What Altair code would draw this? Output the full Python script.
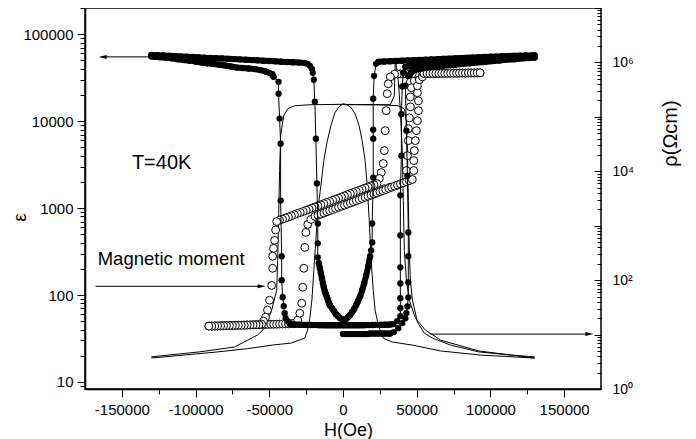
import altair as alt
import pandas as pd

FONT = "Liberation Sans"

# ---------------- dielectric constant (filled circles, left axis) ----------------
# sweep up (-130 kOe -> +130 kOe), split into pieces; "band" pieces are dense runs of dots
UP1_H = [-130000, -126000, -122000, -118000, -114000, -110000, -106000, -102000, -98000, -94000,
         -90000, -86000, -82000, -78000, -74000, -70000, -66000, -62000, -58000, -54000,
         -50000, -46000, -42000, -38000, -34000, -30000, -26000]
UP1_V = [57800, 57300, 56900, 56400, 56000, 55500, 55100, 54600, 54200, 53700,
         53300, 52900, 52600, 52100, 51700, 51300, 50900, 50400, 50000, 49500,
         49100, 48700, 48300, 47900, 47500, 47100, 46600]
UP2_H = [-24000, -22500, -21100, -20500, -19800, -19100, -18400, -17700, -17100, -17100, -17100]
UP2_V = [45500, 43200, 39900, 35900, 29900, 16700, 6280, 1920, 665, 393, 271]
UP3_H = [-16400, -15700, -15000, -14300, -13600, -13000, -12300, -11600, -10900, -10200,
         -9500, -8900, -7500, -6100, -4800, -3400, -2000, -700, 700,
         2000, 3400, 4800, 6100, 7500, 8900, 10200, 11600, 13000, 14300, 15700, 17100, 18400]
UP3_V = [232, 203, 178, 156, 136, 123, 110, 102, 94.4, 87.1,
         80.5, 76.4, 70.5, 65.2, 60.2, 57.1, 54.2, 52.7, 51.4,
         52.7, 55.6, 58.6, 63.5, 68.7, 76.4, 84.8, 96.8, 113, 136, 167, 214, 279]
UP4_H = [19100, 19800, 19800, 20500, 20500, 20500, 20500, 21100, 22500]
UP4_V = [326, 403, 665, 2240, 6280, 7980, 18100, 33200, 45600]
UP5_H = [24000, 28000, 32000, 36000, 40000, 44000, 48000, 52000, 56000, 60000, 64000, 68000,
         72000, 76000, 80000, 84000, 88000, 92000, 96000, 100000, 104000, 108000, 112000,
         116000, 120000, 124000, 128000, 130000]
UP5_V = [48100, 48500, 48800, 49100, 49500, 49800, 50200, 50500, 50900, 51200, 51600, 52000,
         52300, 52700, 53100, 53400, 53800, 54200, 54600, 55000, 55300, 55700, 56000,
         56300, 56600, 56800, 57000, 57100]

# sweep down (+130 kOe -> -130 kOe)
DN1_H = [130000, 126000, 122000, 118000, 114000, 110000, 106000, 102000, 98000, 94000,
         90000, 86000, 82000, 78000, 74000, 70000, 66000, 62000, 58000, 54000, 50000, 46000, 42300]
DN1_V = [54300, 54000, 53600, 53200, 52800, 52400, 52000, 51500, 51000, 50600,
         50100, 49700, 49200, 48700, 48200, 47700, 47100, 46600, 46000, 45300, 44600, 43800, 42100]
DN2_H = [40900, 40200, 39600, 39600, 38900, 38900, 38900, 38900, 38900, 38900, 38900, 36800]
DN2_V = [36000, 25000, 12000, 4000, 1400, 485, 208, 136, 91.8, 70.5, 57.1, 50.0]
DN3_H = [34100, 32000, 30000, 28000, 26000, 24000, 22000, 20000, 18000, 16000, 14000, 12000,
         10000, 8000, 6000, 4000, 2000, 0, -2000, -4000, -6000, -8000, -10000, -12000, -14000,
         -16000, -18000, -20000, -22000, -24000, -26000, -28000, -30000, -32000, -34000, -36000]
DN3_V = [46.3, 45.8, 45.6, 45.5, 45.4, 45.3, 45.3, 45.2, 45.1, 45.1, 45.0, 45.0,
         44.9, 44.9, 44.9, 44.8, 44.8, 44.8, 44.8, 44.8, 44.8, 44.9, 44.9, 44.9, 45.0,
         45.0, 45.1, 45.1, 45.2, 45.3, 45.3, 45.4, 45.5, 45.6, 45.8, 46.2]
DN4_H = [-37500, -38900, -39600, -40200, -40900, -41600, -41600, -42300, -42300, -43000,
         -43700, -43700]
DN4_V = [50.0, 54.2, 61.8, 74.3, 94.4, 148, 279, 1220, 5510, 10700, 20700, 28300]
DN5_H = [-47100, -48000, -52000, -56000, -60000, -64000, -68000, -72000, -76000, -80000,
         -84000, -88000, -92000, -96000, -100000, -104000, -108000, -112000, -116000,
         -120000, -124000, -128000, -130000]
DN5_V = [32300, 34700, 37000, 38600, 39700, 40300, 40800, 41300, 42500, 43700,
         44600, 45500, 46300, 47300, 48500, 49600, 50500, 51500, 52700,
         53700, 54400, 55100, 55500]

# first (virgin) sweep from 0
VG1_H = [0, 2000, 4000, 6000, 8000, 10000, 12000, 14000, 16000, 18000, 20000, 22000,
         24000, 26000, 28000, 30000, 32000]
VG1_V = [35.5, 35.5, 35.5, 35.5, 35.5, 35.5, 35.5, 35.5, 35.5, 36, 36, 36,
         36, 36, 36, 36, 36]
VG2_H = [34500, 37500, 40200, 42300, 43000, 43700, 44300, 44300, 44300, 44300, 43700, 43000, 42300]
VG2_V = [37.5, 41.6, 47.5, 54, 62, 74, 94, 140, 279, 525, 2360, 7770, 25500]
VG3_H = [44300, 47100, 54000, 60000, 68000, 76000, 86000, 96000, 106000, 116000, 126000, 130000]
VG3_V = [33000, 38000, 40500, 41800, 43200, 44600, 46300, 48000, 49800, 51500, 53200, 53800]

# ---------------- magnetic moment (open circles, drawn on the left scale) ----------------
M_DOWN_H = [93000, 91000, 89000, 87000, 85000, 83000, 81000, 79000, 77000, 75000,
            73000, 71000, 69000, 67000, 65000, 63000, 61000, 59000, 57000, 55000,
            53000, 51000, 49000, 47000, 45000, 43000, 41000, 39000, 37000, 35000,
            32100, 30700, 30000, 29300, 28600, 28000, 27300, 25900, 24600,
            23000, 21000, 19000, 17000, 15000, 13000, 11000, 9000, 7000, 5000,
            3000, 1000, -1000, -3000, -5000, -7000, -9000, -11000, -13000, -15000,
            -17000, -19000, -21000, -23000, -25000, -27000, -29000, -31000, -33000, -35000,
            -37000, -39000, -41000, -43000, -45000,
            -45700, -46400, -47100, -47700, -47700, -48400, -49800, -51200, -52500, -53900, -55200,
            -57000, -59000, -61000, -63000, -65000, -67000, -69000, -71000, -73000, -75000,
            -77000, -79000, -81000, -83000, -85000, -87000, -89000, -91000]
M_DOWN_V = [35900, 35900, 35800, 35800, 35800, 35700, 35700, 35700, 35600, 35600,
            35600, 35500, 35500, 35500, 35400, 35400, 35400, 35300, 35300, 35300,
            35200, 35200, 35200, 35100, 35100, 35100, 35000, 35000, 34900, 34700,
            32300, 26900, 20700, 13200, 7770, 4580, 3250, 2560, 2190,
            1910, 1855, 1800, 1750, 1700, 1650, 1600, 1555, 1510, 1465,
            1425, 1380, 1340, 1300, 1265, 1230, 1190, 1160, 1125, 1090,
            1060, 1030, 1000, 970, 945, 915, 890, 865, 840, 815,
            790, 770, 745, 725, 700,
            560, 425, 344, 279, 203, 129, 87.1, 67, 55.6, 50.0, 46.3,
            45.6, 45.5, 45.4, 45.3, 45.2, 45.0, 44.9, 44.8, 44.7, 44.6,
            44.5, 44.4, 44.3, 44.2, 44.1, 44.0, 43.9, 43.9]

M_UP_H = [-91000, -89000, -87000, -85000, -83000, -81000, -79000, -77000, -75000, -73000,
          -71000, -69000, -67000, -65000, -63000, -61000, -59000, -57000, -55000, -53000,
          -51000, -49000, -47000, -45000, -43000, -41000, -39000, -37000, -35000, -33000,
          -30700, -29300, -28000, -27300, -26600, -25900, -25200, -23900, -21800,
          -19000, -17000, -15000, -13000, -11000, -9000, -7000, -5000, -3000, -1000,
          1000, 3000, 5000, 7000, 9000, 11000, 13000, 15000, 17000, 19000,
          21000, 23000, 25000, 27000, 29000, 31000, 33000, 35000, 37000, 39000,
          41000, 43000, 45000, 47000,
          48000, 48000, 48400, 49100, 49800, 50500, 51200, 51200, 50500, 50500, 51800, 53900,
          55000, 57000, 59000, 61000, 63000, 65000, 67000, 69000, 71000, 73000,
          75000, 77000, 79000, 81000, 83000, 85000, 87000, 89000, 91000, 93000]
M_UP_V = [43.9, 44.0, 44.1, 44.2, 44.3, 44.4, 44.5, 44.6, 44.7, 44.8,
          44.9, 45.0, 45.1, 45.2, 45.3, 45.4, 45.5, 45.6, 45.7, 45.8,
          45.9, 46.0, 46.1, 46.2, 46.3, 46.4, 46.5, 46.6, 46.8, 47.5,
          51.4, 61.8, 80.5, 123, 203, 353, 525, 649, 740,
          805, 828, 853, 878, 905, 932, 960, 990, 1020, 1050,
          1080, 1110, 1145, 1180, 1215, 1250, 1290, 1330, 1370, 1410,
          1450, 1495, 1540, 1585, 1635, 1685, 1735, 1785, 1840, 1895,
          1950, 2010, 2070, 2130,
          2700, 3520, 4580, 5970, 7770, 10100, 13200, 17100, 21200, 25500, 29900, 32300,
          35300, 35300, 35300, 35400, 35400, 35400, 35500, 35500, 35500, 35600,
          35600, 35600, 35700, 35700, 35700, 35800, 35800, 35800, 35900, 35900]

M_VIRGIN_H = [0, 4000, 8000, 12000, 16000, 20000, 24000, 28000, 32000, 36000, 40000,
              43000, 43700, 44300, 44300, 45000, 45700, 45700, 46400, 48400, 51200]
M_VIRGIN_V = [1220, 1250, 1320, 1375, 1430, 1520, 1590, 1670, 1740, 1820, 1920,
              2700, 4010, 5970, 8190, 10900, 14600, 19000, 24200, 29100, 32300]

# ---------------- resistivity (thin lines, right axis) ----------------
RHO_UP_H = [-130000, -100000, -85000, -65000, -48000, -35000, -26000, -24000, -22500, -21100,
            -19800, -18400, -17100, -15000, -13000, -10900, -8200, -5500, -2700, 0,
            2700, 5500, 8200, 10900, 13000, 15000, 16400, 17800, 19100, 20500,
            21800, 23900, 27300, 33400, 47100, 66200, 93400, 130000]
RHO_UP_V = [3.7, 4.4, 4.8, 5.5, 6.4, 7.0, 8.6, 12.1, 20, 43,
            152, 540, 1900, 5500, 15700, 33600, 69000, 119000, 153000, 174000,
            167000, 147000, 114000, 69000, 36600, 15700, 5500, 1250, 231, 65,
            28, 15, 8.6, 7.3, 6.4, 5.0, 4.2, 3.7]

RHO_DOWN_H = [130000, 92100, 66200, 55900, 49100, 45000, 43000, 41600, 40900, 40200,
              38900, 37500, 35500, 34800, 32100, 18400, 0, -22500, -32700, -37500,
              -40200, -42300, -43000, -43700, -44300, -45000, -48400, -53200, -58000, -73700,
              -97500, -130000]
RHO_DOWN_V = [3.7, 5.0, 7.9, 12.1, 20, 42.8, 99, 352, 2900, 24000,
              130000, 459000, 1210000, 244000, 167000, 167000, 170000, 167000, 160000, 141000,
              105000, 45200, 10300, 1250, 231, 65, 28, 13.1, 9.8, 5.9,
              4.8, 3.9]

RHO_VIRGIN_H = [0, 25200, 37500, 41600, 43000, 43700, 44300, 45000, 45700, 47100,
                50500, 55200, 60700, 73000, 92100, 113900, 130000]
RHO_VIRGIN_V = [167000, 167000, 160000, 141000, 92500, 24000, 2900, 352, 99, 42.8,
                16.9, 10.6, 8.6, 6.4, 4.8, 4.2, 3.9]

# ---------------- annotations ----------------
ARROW_EPS_H = [-131000, -163000]
ARROW_EPS_V = [54800, 54800]
ARROW_M_H = [-167800, -55200]
ARROW_M_V = [126, 126]
ARROW_RHO_H = [59300, 167100]
ARROW_RHO_V = [10.2, 10.2]

TEXT_T = ["T=40K"]
TEXT_T_H = [-143200]
TEXT_T_V = [2845]
TEXT_M = ["Magnetic moment"]
TEXT_M_H = [-166400]
TEXT_M_V = [220]

X_TICKS = [-150000, -125000, -100000, -75000, -50000, -25000, 0, 25000, 50000, 75000,
           100000, 125000, 150000]
EPS_TICKS = [9, 10, 20, 30, 40, 50, 60, 70, 80, 90, 100, 200, 300, 400, 500, 600, 700, 800, 900,
             1000, 2000, 3000, 4000, 5000, 6000, 7000, 8000, 9000,
             10000, 20000, 30000, 40000, 50000, 60000, 70000, 80000, 90000, 100000, 200000]
RHO_TICKS = [1, 2, 3, 4, 5, 6, 7, 8, 9,
             10, 20, 30, 40, 50, 60, 70, 80, 90,
             100, 200, 300, 400, 500, 600, 700, 800, 900,
             1000, 2000, 3000, 4000, 5000, 6000, 7000, 8000, 9000,
             10000, 20000, 30000, 40000, 50000, 60000, 70000, 80000, 90000,
             100000, 200000, 300000, 400000, 500000, 600000, 700000, 800000, 900000,
             1000000, 2000000, 3000000, 4000000, 5000000, 6000000, 7000000, 8000000, 9000000,
             10000000]


def seg(h, v, name):
    assert len(h) == len(v), name
    return pd.DataFrame({"H": h, "v": v, "i": list(range(len(h))), "s": name})


eps_sweeps = pd.concat([
    seg(UP1_H + UP2_H + UP3_H + UP4_H + UP5_H, UP1_V + UP2_V + UP3_V + UP4_V + UP5_V, "up"),
    seg(DN1_H + DN2_H + DN3_H + DN4_H + DN5_H, DN1_V + DN2_V + DN3_V + DN4_V + DN5_V, "down"),
    seg(VG1_H + VG2_H + VG3_H, VG1_V + VG2_V + VG3_V, "virgin"),
])
eps_bands = pd.concat([
    seg(UP1_H, UP1_V, "u1"), seg(UP3_H, UP3_V, "u3"), seg(UP5_H, UP5_V, "u5"),
    seg(DN1_H, DN1_V, "d1"), seg(DN3_H, DN3_V, "d3"), seg(DN5_H, DN5_V, "d5"),
    seg(VG1_H, VG1_V, "v1"), seg(VG3_H, VG3_V, "v3"),
])
m_df = pd.concat([seg(M_DOWN_H, M_DOWN_V, "down"), seg(M_UP_H, M_UP_V, "up"),
                  seg(M_VIRGIN_H, M_VIRGIN_V, "virgin")])
rho_df = pd.concat([seg(RHO_UP_H, RHO_UP_V, "up"), seg(RHO_DOWN_H, RHO_DOWN_V, "down"),
                    seg(RHO_VIRGIN_H, RHO_VIRGIN_V, "virgin")])
arrow_df = pd.concat([seg(ARROW_EPS_H, ARROW_EPS_V, "eps"), seg(ARROW_M_H, ARROW_M_V, "m")])
arrow_rho_df = seg(ARROW_RHO_H, ARROW_RHO_V, "rho")
head_left_df = pd.DataFrame({"H": [ARROW_EPS_H[1]], "v": [ARROW_EPS_V[1]]})
head_right_df = pd.DataFrame({"H": [ARROW_M_H[1]], "v": [ARROW_M_V[1]]})
head_rho_df = pd.DataFrame({"H": [ARROW_RHO_H[1]], "v": [ARROW_RHO_V[1]]})
text_t_df = pd.DataFrame({"H": TEXT_T_H, "v": TEXT_T_V, "t": TEXT_T})
text_m_df = pd.DataFrame({"H": TEXT_M_H, "v": TEXT_M_V, "t": TEXT_M})

DEC = "abs(log(datum.value)/LN10 - round(log(datum.value)/LN10)) < 0.001"
EXP = "round(log(datum.value)/LN10)"

X_ENC = alt.X(
    "H:Q",
    scale=alt.Scale(domain=[-175000, 175000], nice=False, zero=False),
    axis=alt.Axis(
        values=X_TICKS,
        labelExpr="datum.value % 50000 == 0 ? (datum.value < 0 ? '-' : '') + format(abs(datum.value), 'd') : ''",
        tickSize={"condition": {"test": "datum.value % 50000 == 0", "value": 8}, "value": 5},
        labelPadding=5, labelOverlap=False, grid=False,
        title="H(Oe)", titleX=263, titleY=41, titleBaseline="middle", titleFontSize=18,
    ),
)

Y_EPS = alt.Y(
    "v:Q",
    scale=alt.Scale(type="log", domain=[8.3, 200000], nice=False),
    axis=alt.Axis(
        orient="left",
        values=EPS_TICKS,
        labelExpr=f"{DEC} ? format(datum.value, 'd') : ''",
        tickSize={"condition": {"test": DEC, "value": 8}, "value": 5},
        labelPadding=4, labelOverlap=False, grid=False,
        title="ε", titleX=-66, titleY=209, titleAngle=270, titleAlign="center",
        titleBaseline="middle", titleFontSize=19,
    ),
)

SUP = "['⁰','¹','²','³','⁴','⁵','⁶','⁷']"
Y_RHO = alt.Y(
    "v:Q",
    scale=alt.Scale(type="log", domain=[1, 10000000], nice=False),
    axis=alt.Axis(
        orient="right",
        values=RHO_TICKS,
        offset=-7,
        domain=False,
        tickSize=7,
        tickDash={"condition": {"test": DEC, "value": [8, 0]}, "value": [0, 3, 4, 10]},
        labelExpr=f"({DEC} && {EXP} % 2 == 0) ? '10' + {SUP}[{EXP}] : ''",
        labelPadding=11, labelOverlap=False, grid=False, labelFontSize=14,
        title="ρ(Ωcm)", titleX=76, titleY=125, titleAngle=270, titleAlign="center",
        titleBaseline="middle", titleFontSize=20,
    ),
)

LEFT_HEAD = "M-1,0L1,-0.5L1,0.5Z"
RIGHT_HEAD = "M1,0L-1,-0.5L-1,0.5Z"

rho_lines = alt.Chart(rho_df).mark_line(color="black", strokeWidth=1).encode(
    x=X_ENC, y=Y_RHO, detail="s:N", order="i:Q")
rho_arrow = alt.Chart(arrow_rho_df).mark_line(color="black", strokeWidth=1).encode(
    x=X_ENC, y=Y_RHO, order="i:Q")
rho_head = alt.Chart(head_rho_df).mark_point(shape=RIGHT_HEAD, filled=True, color="black",
                                             size=64, opacity=1).encode(x=X_ENC, y=Y_RHO)
rho_group = alt.layer(rho_lines, rho_arrow, rho_head)

m_points = alt.Chart(m_df).mark_point(shape="circle", filled=True, fill="white", stroke="black",
                                      strokeWidth=1, size=62, opacity=1).encode(
    x=X_ENC, y=Y_EPS, order="i:Q")
eps_lines = alt.Chart(eps_sweeps).mark_line(color="black", strokeWidth=1).encode(
    x=X_ENC, y=Y_EPS, detail="s:N", order="i:Q")
eps_band_lines = alt.Chart(eps_bands).mark_line(color="black", strokeWidth=6, strokeCap="round",
                                                strokeJoin="round").encode(
    x=X_ENC, y=Y_EPS, detail="s:N", order="i:Q")
eps_points = alt.Chart(eps_sweeps).mark_point(shape="circle", filled=True, color="black",
                                              size=40, opacity=1).encode(x=X_ENC, y=Y_EPS)
arrows = alt.Chart(arrow_df).mark_line(color="black", strokeWidth=1).encode(
    x=X_ENC, y=Y_EPS, detail="s:N", order="i:Q")
head_l = alt.Chart(head_left_df).mark_point(shape=LEFT_HEAD, filled=True, color="black",
                                            size=64, opacity=1).encode(x=X_ENC, y=Y_EPS)
head_r = alt.Chart(head_right_df).mark_point(shape=RIGHT_HEAD, filled=True, color="black",
                                             size=64, opacity=1).encode(x=X_ENC, y=Y_EPS)
text_t = alt.Chart(text_t_df).mark_text(align="left", baseline="alphabetic", font=FONT,
                                        fontSize=20, color="black").encode(
    x=X_ENC, y=Y_EPS, text="t:N")
text_m = alt.Chart(text_m_df).mark_text(align="left", baseline="alphabetic", font=FONT,
                                        fontSize=18.5, color="black").encode(
    x=X_ENC, y=Y_EPS, text="t:N")
eps_group = alt.layer(m_points, eps_band_lines, eps_lines, eps_points, arrows, head_l, head_r,
                      text_t, text_m)

chart = (
    alt.layer(rho_group, eps_group)
    .resolve_scale(y="independent")
    .properties(width=516, height=381,
                padding={"left": 77, "top": 0, "right": 87, "bottom": 52},
                autosize=alt.AutoSizeParams(type="none"),
                background="white")
    .configure_view(stroke="black", strokeWidth=1.5)
    .configure_axis(labelFont=FONT, labelFontSize=15, labelColor="black",
                    titleFont=FONT, titleFontWeight="normal", titleColor="black",
                    domainColor="black", domainWidth=1.5, tickColor="black", tickWidth=1)
)

chart.save("out.html", embed_options={"renderer": "svg", "actions": False})
